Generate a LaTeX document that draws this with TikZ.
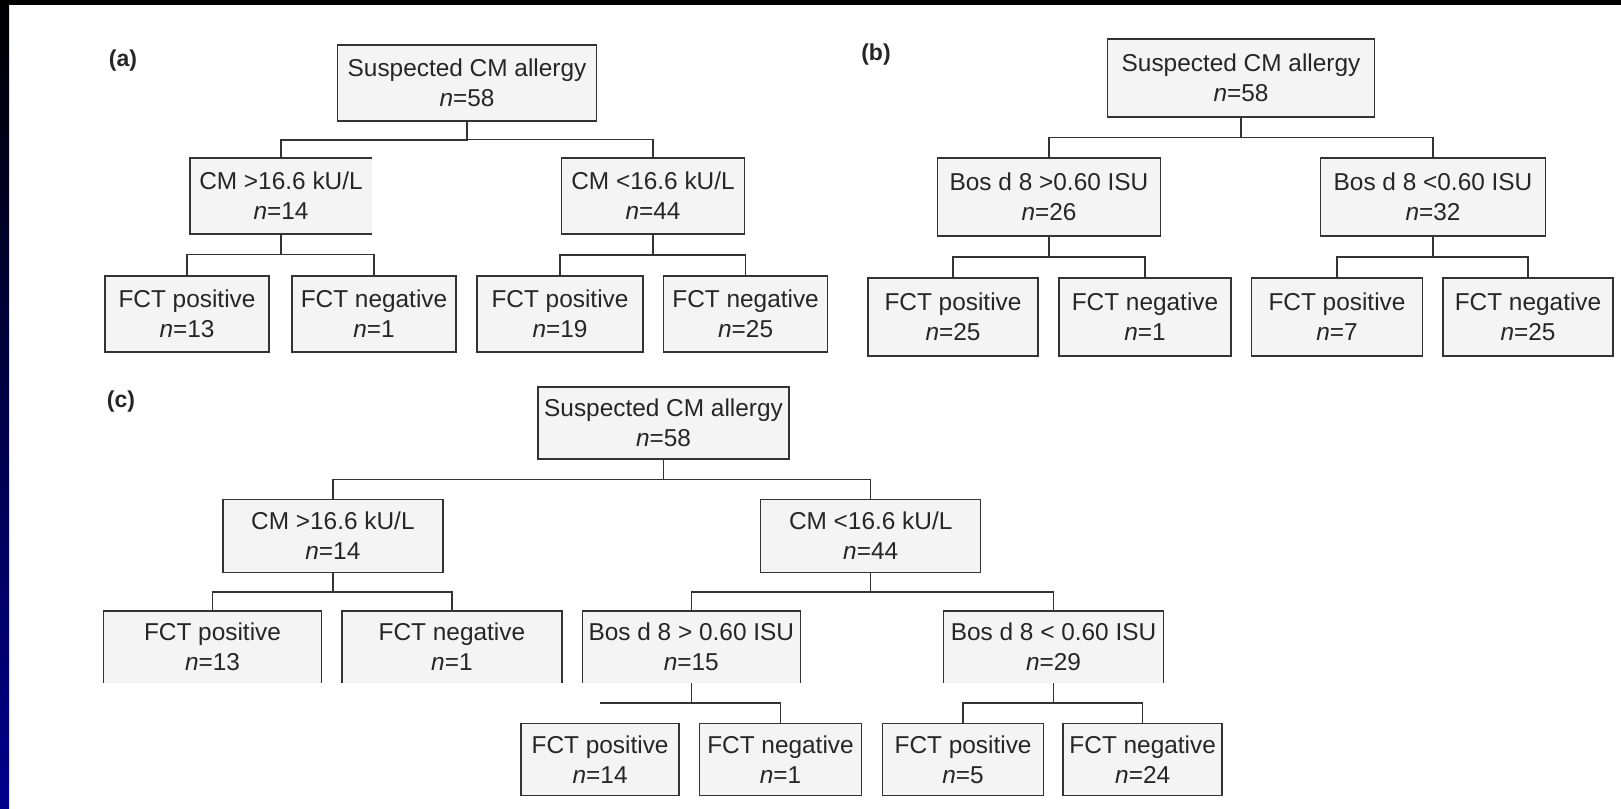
\documentclass[tikz,border=0pt]{standalone}
\usepackage{fontspec}
\setmainfont{Liberation Sans}
\usetikzlibrary{positioning,calc}
\definecolor{boxgray}{RGB}{244,244,244}
\definecolor{linegray}{RGB}{51,51,51}
\definecolor{slidenavy}{RGB}{0,0,140}

\begin{document}
\begin{tikzpicture}[x=0.5pt,y=-0.5pt,node distance=2cm,on grid]
\tikzstyle{box}=[rectangle,draw=linegray,line width=0.75pt,fill=boxgray,minimum height=38pt,inner sep=2pt,align=center,text=black!85,font=\fontsize{12.2}{15}\selectfont]
\tikzstyle{openbox}=[box,draw=none,outer sep=0pt]
\tikzstyle{rim}=[draw=linegray,line width=0.75pt]
\tikzstyle{link}=[linegray,line width=0.7pt]
\tikzstyle{tree}=[to path={(\tikztostart) |- ($(\tikztostart)!0.5!(\tikztotarget)$) -| (\tikztotarget)}]
\tikzstyle{panel}=[font=\bfseries\fontsize{11.5}{14}\selectfont,text=black!85]

  %--- slide frame ---
  \useasboundingbox (0,0) rectangle (1621,808);
  \fill[white] (0,0) rectangle (1621,808);
  \fill[black] (0,0) rectangle (1621,5);
  \shade[top color=black,bottom color=slidenavy] (0,0) rectangle (9,808);

  %--- (a) ---
  \node[panel] (la) at (123,61) {(a)};
  \node[box,minimum width=129.5pt] (a0) at (467,83) {Suspected CM allergy\\\textit{n}=58};
  \node[openbox,minimum width=91pt] (a1) [below left=56.5pt and 93pt of a0] {CM >16.6 kU/L\\\textit{n}=14};
  \node[box,minimum width=91.5pt] (a2) [below right=56.5pt and 93pt of a0] {CM <16.6 kU/L\\\textit{n}=44};
  \node[box,minimum width=82pt] (a11) [below left=59pt and 47pt of a1] {FCT positive\\\textit{n}=13};
  \node[box,minimum width=82pt] (a12) [below right=59pt and 46.5pt of a1] {FCT negative\\\textit{n}=1};
  \node[box,minimum width=83pt] (a21) [below left=59pt and 46.5pt of a2] {FCT positive\\\textit{n}=19};
  \node[box,minimum width=82pt] (a22) [below right=59pt and 46.3pt of a2] {FCT negative\\\textit{n}=25};

  %--- (b) ---
  \node[panel] (lb) at (876,55) {(b)};
  \node[box,minimum width=133.5pt,minimum height=39pt] (b0) at (1241,78) {Suspected CM allergy\\\textit{n}=58};
  \node[box,minimum width=111.5pt,minimum height=39pt] (b1) [below left=59.5pt and 96pt of b0] {Bos d 8 >0.60 ISU\\\textit{n}=26};
  \node[box,minimum width=112.7pt,minimum height=39pt] (b2) [below right=59.5pt and 96pt of b0] {Bos d 8 <0.60 ISU\\\textit{n}=32};
  \node[box,minimum width=85pt,minimum height=39pt] (b11) [below left=60pt and 48pt of b1] {FCT positive\\\textit{n}=25};
  \node[box,minimum width=86pt,minimum height=39pt] (b12) [below right=60pt and 48pt of b1] {FCT negative\\\textit{n}=1};
  \node[box,minimum width=85.5pt,minimum height=39pt] (b21) [below left=60pt and 48pt of b2] {FCT positive\\\textit{n}=7};
  \node[box,minimum width=85.2pt,minimum height=39pt] (b22) [below right=60pt and 47.5pt of b2] {FCT negative\\\textit{n}=25};

  %--- (c) ---
  \node[panel] (lc) at (121,402) {(c)};
  \node[box,minimum width=125.5pt,minimum height=36pt] (c0) at (663.5,423) {Suspected CM allergy\\\textit{n}=58};
  \node[box,minimum width=110pt,minimum height=36.5pt] (c1) [below left=56.5pt and 165.3pt of c0] {CM >16.6 kU/L\\\textit{n}=14};
  \node[box,minimum width=110pt,minimum height=36.5pt] (c2) [below right=56.5pt and 103.6pt of c0] {CM <16.6 kU/L\\\textit{n}=44};
  \node[openbox,minimum width=109pt,minimum height=36pt] (c11) [below left=55.5pt and 60.2pt of c1] {FCT positive\\\textit{n}=13};
  \node[openbox,minimum width=110pt,minimum height=36pt] (c12) [below right=55.5pt and 59.5pt of c1] {FCT negative\\\textit{n}=1};
  \node[openbox,minimum width=109pt,minimum height=36pt] (c21) [below left=55.5pt and 89.7pt of c2] {Bos d 8 > 0.60 ISU\\\textit{n}=15};
  \node[openbox,minimum width=110pt,minimum height=36pt] (c22) [below right=55.5pt and 91.4pt of c2] {Bos d 8 < 0.60 ISU\\\textit{n}=29};
  \node[box,minimum width=79pt,minimum height=36pt] (c211) [below left=56.2pt and 45.6pt of c21] {FCT positive\\\textit{n}=14};
  \node[box,minimum width=81pt,minimum height=36pt] (c212) [below right=56.2pt and 44.6pt of c21] {FCT negative\\\textit{n}=1};
  \node[box,minimum width=80.5pt,minimum height=36pt] (c221) [below left=56.2pt and 45.2pt of c22] {FCT positive\\\textit{n}=5};
  \node[box,minimum width=79.5pt,minimum height=36pt] (c222) [below right=56.2pt and 44.6pt of c22] {FCT negative\\\textit{n}=24};

  %--- borders with a missing side ---
  \draw[rim] (a1.south east) -- (a1.south west) -- (a1.north west) -- (a1.north east);
  \foreach \n in {c11,c12,c21,c22}
    \draw[rim] (\n.south west) -- (\n.north west) -- (\n.north east) -- (\n.south east);

  %--- branches ---
  \path[link]
    (a0.south) edge[tree] (a1.north)
    (a0.south) edge[tree] (a2.north)
    (a1.south) edge[tree] (a11.north)
    (a1.south) edge[tree] (a12.north)
    (a2.south) edge[tree] (a21.north)
    (a2.south) edge[tree] (a22.north)

    (b0.south) edge[tree] (b1.north)
    (b0.south) edge[tree] (b2.north)
    (b1.south) edge[tree] (b11.north)
    (b1.south) edge[tree] (b12.north)
    (b2.south) edge[tree] (b21.north)
    (b2.south) edge[tree] (b22.north)

    (c0.south) edge[tree] (c1.north)
    (c0.south) edge[tree] (c2.north)
    (c1.south) edge[tree] (c11.north)
    (c1.south) edge[tree] (c12.north)
    (c2.south) edge[tree] (c21.north)
    (c2.south) edge[tree] (c22.north)
    (c21.south) edge[tree] (c212.north)
    (c22.south) edge[tree] (c221.north)
    (c22.south) edge[tree] (c222.north);

  % left end of the bar under c21 has no drop
  \coordinate (c21bar) at ($(c21.south)!0.5!(c212.north)$);
  \draw[link] (c21bar -| c21.south) -- (c21bar -| c211.north);
\end{tikzpicture}
\end{document}
